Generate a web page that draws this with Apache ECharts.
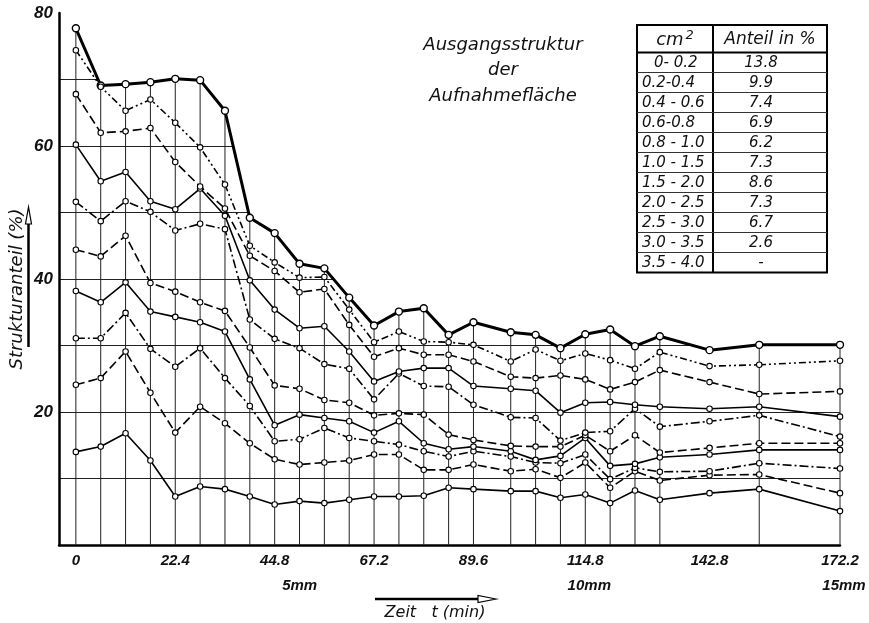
<!DOCTYPE html>
<html>
<head>
<meta charset="utf-8">
<script src="https://cdn.jsdelivr.net/npm/echarts@6/dist/echarts.min.js"></script>
<style>
html,body{margin:0;padding:0;background:#fff;}
#chart{width:869px;height:623px;}
</style>
</head>
<body>
<div id="chart"></div>
<script>
// ---- data ----
const times = [0, 5.6, 11.2, 16.8, 22.4, 28.0, 33.6, 39.2, 44.8, 50.4, 56.0, 61.6, 67.2, 72.8, 78.4, 84.0, 89.6, 98.0, 103.6, 109.2, 114.8, 120.4, 126.0, 131.6, 142.8, 154.0, 172.2];

// cumulative structure share (%) up to the given class limit (cm²)
const upTo02 = [14.0, 14.8, 16.8, 12.7, 7.3, 8.8, 8.4, 7.3, 6.1, 6.6, 6.3, 6.8, 7.3, 7.3, 7.4, 8.6, 8.4, 8.1, 8.1, 7.1, 7.6, 6.3, 8.2, 6.8, 7.8, 8.4, 5.1];
const upTo04 = [24.1, 25.1, 29.1, 22.9, 16.9, 20.8, 18.3, 15.3, 12.9, 12.1, 12.4, 12.7, 13.6, 13.6, 11.3, 11.3, 12.1, 11.1, 11.4, 10.1, 12.4, 8.6, 11.1, 9.7, 10.5, 10.6, 7.8];
const upTo06 = [31.1, 31.1, 34.9, 29.5, 26.8, 29.6, 25.1, 20.9, 15.6, 15.9, 17.6, 16.1, 15.6, 15.1, 14.1, 13.3, 14.1, 13.3, 12.4, 12.3, 13.6, 9.9, 11.6, 11.0, 11.1, 12.3, 11.5];
const upTo08 = [38.2, 36.5, 39.5, 35.1, 34.3, 33.5, 32.1, 24.9, 18.0, 19.6, 19.1, 18.6, 16.9, 18.6, 15.3, 14.4, 14.8, 14.1, 12.8, 13.4, 16.1, 11.9, 12.2, 13.2, 13.6, 14.3, 14.3];
const upTo10 = [44.4, 43.4, 46.5, 39.4, 38.1, 36.5, 35.2, 29.7, 24.0, 23.5, 21.8, 21.4, 19.5, 19.8, 19.6, 16.6, 15.8, 14.9, 14.8, 14.8, 16.5, 14.1, 16.5, 13.9, 14.6, 15.3, 15.3];
const upTo15 = [51.6, 48.7, 51.7, 50.1, 47.3, 48.3, 47.5, 33.9, 31.0, 29.6, 27.2, 26.5, 21.9, 25.8, 23.9, 23.8, 21.1, 19.2, 19.1, 15.7, 16.9, 17.1, 20.5, 17.8, 18.6, 19.5, 16.3];
const upTo20 = [60.2, 54.7, 56.1, 51.7, 50.5, 53.6, 49.5, 39.8, 35.4, 32.6, 32.9, 29.1, 24.6, 26.1, 26.6, 26.6, 23.9, 23.5, 23.2, 19.9, 21.4, 21.5, 21.1, 20.8, 20.5, 20.8, 19.3];
const upTo25 = [67.8, 62.0, 62.2, 62.7, 57.6, 53.9, 50.6, 43.5, 41.2, 38.0, 38.5, 33.1, 28.3, 29.6, 28.6, 28.6, 27.6, 25.3, 25.1, 25.5, 24.9, 23.4, 24.5, 26.3, 24.5, 22.7, 23.1];
const upTo30 = [74.4, 68.9, 65.3, 67.0, 63.5, 59.8, 54.2, 45.0, 42.5, 40.2, 40.3, 35.4, 30.5, 32.1, 30.6, 30.5, 30.1, 27.6, 29.4, 27.7, 28.8, 27.8, 26.5, 29.0, 26.9, 27.1, 27.7];
const upTo35 = [77.7, 69.1, 69.3, 69.6, 70.1, 69.9, 65.3, 49.2, 46.9, 42.3, 41.6, 37.2, 33.0, 35.1, 35.6, 31.6, 33.5, 32.0, 31.6, 29.6, 31.7, 32.4, 29.9, 31.4, 29.3, 30.1, 30.1];

const curveNames = ['bis 0.2 cm²', 'bis 0.4 cm²', 'bis 0.6 cm²', 'bis 0.8 cm²', 'bis 1.0 cm²', 'bis 1.5 cm²', 'bis 2.0 cm²', 'bis 2.5 cm²', 'bis 3.0 cm²', 'bis 3.5 cm²'];
const curves = [upTo02, upTo04, upTo06, upTo08, upTo10, upTo15, upTo20, upTo25, upTo30, upTo35];

// initial structure table
const classLabels = ['0- 0.2', '0.2-0.4', '0.4 - 0.6', '0.6-0.8', '0.8 - 1.0', '1.0 - 1.5', '1.5 - 2.0', '2.0 - 2.5', '2.5 - 3.0', '3.0 - 3.5', '3.5 - 4.0'];
const classShares = ['13.8', '9.9', '7.4', '6.9', '6.2', '7.3', '8.6', '7.3', '6.7', '2.6', '-'];
const titleLines = ['Ausgangsstruktur', 'der', 'Aufnahmefläche'];

// axis ticks
const xTickValues = [0, 22.4, 44.8, 67.2, 89.6, 114.8, 142.8, 172.2];
const xTickLabels = ['0', '22.4', '44.8', '67.2', '89.6', '114.8', '142.8', '172.2'];
const rainLabels = ['', '', '5mm', '', '', '10mm', '', '15mm'];
const yTickValues = [20, 40, 60, 80];
const yGridValues = [10, 20, 30, 40, 50, 60, 70];
// vertical drop lines under the top curve (none drawn at 142.8)
const dropLineTimes = times.filter(t => t !== 142.8);

// ---- styles ----
const NUMFONT = 'Liberation Sans';
const TXTFONT = 'DejaVu Sans';
const DASH = [9, 4];
const DASHDOT = [9, 3, 2, 3];
const DASHDOTDOT = [7, 3, 2, 3, 2, 3];
const lineTypes = ['solid', DASH, DASHDOT, 'solid', DASH, DASHDOT, 'solid', DASH, DASHDOTDOT, 'solid'];

const series = [];
// drop lines from the upper curve down to the time axis
series.push({
  type: 'bar',
  name: 'drop',
  data: dropLineTimes.map(t => [t, upTo35[times.indexOf(t)]]),
  barWidth: 1,
  itemStyle: {color: '#222'},
  clip: false,
  silent: true,
  z: 1
});
curves.forEach((vals, k) => {
  const top = k === curves.length - 1;
  const s = {
    type: 'line',
    name: curveNames[k],
    data: times.map((t, i) => [t, vals[i]]),
    symbol: 'circle',
    symbolSize: top ? 7 : 5.5,
    showAllSymbol: true,
    lineStyle: {color: '#000', width: top ? 3 : 1.6, type: lineTypes[k]},
    itemStyle: {color: '#fff', borderColor: '#000', borderWidth: top ? 1.4 : 1.1},
    emphasis: {disabled: true},
    silent: true,
    z: top ? 3 : 4
  };
  // white fill above the top curve hides the grid there, as in the drawing
  if (top) s.areaStyle = {color: '#fff', opacity: 1, origin: 'end'};
  series.push(s);
});

// ---- table / decorations ----
const T = {left: 637, top: 25, split: 713, right: 827, headH: 27.5, rowH: 20};
const tBottom = T.top + T.headH + T.rowH * classLabels.length;
const graphics = [];
graphics.push({type: 'rect', z: 100, shape: {x: T.left, y: T.top, width: T.right - T.left, height: tBottom - T.top},
  style: {fill: '#fff', stroke: '#000', lineWidth: 2}});
graphics.push({type: 'line', z: 101, shape: {x1: T.split, y1: T.top, x2: T.split, y2: tBottom}, style: {stroke: '#000', lineWidth: 2}});
graphics.push({type: 'line', z: 101, shape: {x1: T.left, y1: T.top + T.headH, x2: T.right, y2: T.top + T.headH}, style: {stroke: '#000', lineWidth: 2}});
for (let i = 1; i < classLabels.length; i++) {
  const y = T.top + T.headH + i * T.rowH;
  graphics.push({type: 'line', z: 101, shape: {x1: T.left, y1: y, x2: T.right, y2: y}, style: {stroke: '#333', lineWidth: 1}});
}
graphics.push({type: 'text', z: 102, style: {text: 'cm{s|2}', x: (T.left + T.split) / 2, y: T.top + T.headH / 2 + 2,
  align: 'center', verticalAlign: 'middle', font: 'oblique 18px ' + TXTFONT, fill: '#111',
  rich: {s: {font: 'oblique 13px ' + TXTFONT, padding: [0, 0, 11, 2], fill: '#111'}}}});
graphics.push({type: 'text', z: 102, style: {text: 'Anteil in %', x: (T.split + T.right) / 2, y: T.top + T.headH / 2 + 1,
  align: 'center', verticalAlign: 'middle', font: 'oblique 17px ' + TXTFONT, fill: '#111'}});
classLabels.forEach((lab, i) => {
  const yc = T.top + T.headH + i * T.rowH + T.rowH / 2 + 0.5;
  graphics.push({type: 'text', z: 102, style: {text: lab, x: i === 0 ? T.left + 17 : T.left + 5, y: yc,
    align: 'left', verticalAlign: 'middle', font: 'oblique 15px ' + TXTFONT, fill: '#111'}});
  graphics.push({type: 'text', z: 102, style: {text: classShares[i], x: T.split + 48, y: yc,
    align: 'center', verticalAlign: 'middle', font: 'oblique 15px ' + TXTFONT, fill: '#111'}});
});
titleLines.forEach((t, i) => {
  graphics.push({type: 'text', z: 102, style: {text: t, x: 503, y: 45 + i * 25.5, align: 'center', verticalAlign: 'middle',
    font: 'oblique 18px ' + TXTFONT, fill: '#111'}});
});
// y-axis title with arrow
graphics.push({type: 'text', z: 102, x: 17, y: 289, rotation: Math.PI / 2,
  style: {text: 'Strukturanteil (%)', x: 0, y: 0, align: 'center', verticalAlign: 'middle', font: 'oblique 18px ' + TXTFONT, fill: '#111'}});
graphics.push({type: 'line', z: 102, shape: {x1: 28.5, y1: 347, x2: 28.5, y2: 222}, style: {stroke: '#000', lineWidth: 2.5}});
graphics.push({type: 'polygon', z: 102, shape: {points: [[28.5, 207], [25.5, 224], [31.5, 224]]}, style: {fill: '#fff', stroke: '#000', lineWidth: 1.2}});
// x-axis title with arrow
graphics.push({type: 'line', z: 102, shape: {x1: 375, y1: 599, x2: 480, y2: 599}, style: {stroke: '#000', lineWidth: 2.5}});
graphics.push({type: 'polygon', z: 102, shape: {points: [[496, 599], [478, 595.5], [478, 602.5]]}, style: {fill: '#fff', stroke: '#000', lineWidth: 1.2}});
graphics.push({type: 'text', z: 102, style: {text: 'Zeit   t (min)', x: 435, y: 613, align: 'center', verticalAlign: 'middle',
  font: 'oblique 16px ' + TXTFONT, fill: '#111'}});

const chart = echarts.init(document.getElementById('chart'), null, {renderer: 'canvas'});
chart.setOption({
  animation: false,
  backgroundColor: '#fff',
  grid: {left: 59, right: 29, top: 13, bottom: 78, containLabel: false, outerBoundsMode: 'none'},
  xAxis: {
    type: 'value', min: -3.8, max: 172.2,
    axisLine: {show: true, onZero: false, lineStyle: {color: '#000', width: 2.5}},
    axisTick: {show: false},
    splitLine: {show: false},
    axisLabel: {
      customValues: xTickValues, margin: 3, lineHeight: 25,
      fontFamily: NUMFONT, fontStyle: 'italic', fontWeight: 'bold', fontSize: 15, color: '#111',
      formatter: (val) => {
        const i = xTickValues.findIndex(v => Math.abs(v - val) < 1e-6);
        if (i < 0) return '';
        const mm = rainLabels[i];
        if (!mm) return xTickLabels[i];
        return xTickLabels[i] + '\n{' + (i === 2 ? 'mmA' : 'mmB') + '|' + mm + '}';
      },
      rich: {
        mmA: {fontFamily: NUMFONT, fontStyle: 'italic', fontWeight: 'bold', fontSize: 15, color: '#111', lineHeight: 25, padding: [0, 0, 0, 50]},
        mmB: {fontFamily: NUMFONT, fontStyle: 'italic', fontWeight: 'bold', fontSize: 15, color: '#111', lineHeight: 25, padding: [0, 0, 0, 8]}
      }
    }
  },
  yAxis: {
    type: 'value', min: 0, max: 80,
    axisLine: {show: true, onZero: false, lineStyle: {color: '#000', width: 2.5}},
    axisTick: {show: false, customValues: yGridValues},
    splitLine: {show: true, lineStyle: {color: '#222', width: 1}},
    axisLabel: {customValues: yTickValues, margin: 6, fontFamily: NUMFONT, fontStyle: 'italic', fontWeight: 'bold', fontSize: 17, color: '#111'}
  },
  graphic: graphics,
  series: series
});
</script>
</body>
</html>
